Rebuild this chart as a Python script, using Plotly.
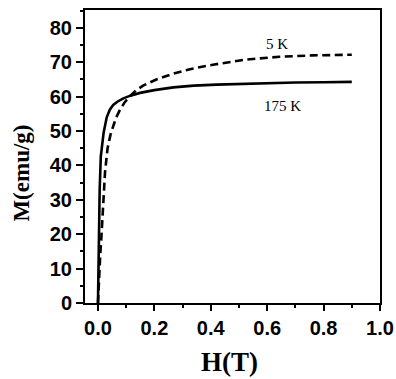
import plotly.graph_objects as go

# 175 K (solid)
h_175 = [0, 0.001, 0.002, 0.004, 0.006, 0.01, 0.015, 0.02, 0.031, 0.042, 0.054, 0.07, 0.09, 0.115,
         0.149, 0.2, 0.267, 0.34, 0.42, 0.53, 0.62, 0.7, 0.8, 0.9]
m_175 = [0, 10, 18.4, 26, 33, 42.6, 46.5, 49.5, 54, 56.2, 57.6, 58.6, 59.5, 60.3,
         61.1, 61.9, 62.7, 63.2, 63.5, 63.8, 64.0, 64.1, 64.2, 64.3]

# 5 K (dashed)
h_5 = [0, 0.004, 0.008, 0.012, 0.016, 0.02, 0.025, 0.034, 0.044, 0.054, 0.065, 0.078, 0.095, 0.113,
       0.135, 0.16, 0.207, 0.267, 0.326, 0.408, 0.526, 0.644, 0.76, 0.9]
m_5 = [0, 9, 14, 19, 26, 33, 38, 45, 48.8, 51.4, 54, 56.2, 58.4, 60.1,
       61.8, 63.2, 65, 66.7, 68, 69.3, 70.8, 71.6, 72, 72.2]

series_labels = ["5 K", "175 K"]
label_pos = [(0.634, 75.3), (0.655, 57.2)]

x_ticks = [0.0, 0.2, 0.4, 0.6, 0.8, 1.0]
x_ticktext = ["0.0", "0.2", "0.4", "0.6", "0.8", "1.0"]
y_ticks = [0, 10, 20, 30, 40, 50, 60, 70, 80]
y_ticktext = ["0", "10", "20", "30", "40", "50", "60", "70", "80"]

fig = go.Figure()
fig.add_trace(go.Scatter(x=h_5, y=m_5, mode="lines",
                         line=dict(color="black", width=2.6, dash="8px,4.5px"),
                         showlegend=False, hoverinfo="skip"))
fig.add_trace(go.Scatter(x=h_175, y=m_175, mode="lines",
                         line=dict(color="black", width=2.6),
                         showlegend=False, hoverinfo="skip"))

for txt, (lx, ly) in zip(series_labels, label_pos):
    fig.add_annotation(x=lx, y=ly, text=txt, showarrow=False,
                       font=dict(family="Liberation Serif", size=15, color="black"))

fig.add_annotation(xref="paper", yref="paper", x=-0.2136, y=0.445, text="<b>M(emu/g)</b>",
                   textangle=-90, showarrow=False, xanchor="center", yanchor="middle",
                   font=dict(family="Liberation Serif", size=23, color="black"))
fig.add_annotation(xref="paper", yref="paper", x=0.49, y=-0.2, text="<b>H(T)</b>",
                   showarrow=False, xanchor="center", yanchor="middle",
                   font=dict(family="Liberation Serif", size=27, color="black"))

tickfont = dict(family="Liberation Sans", size=20, color="black")

fig.update_layout(
    width=396, height=379,
    margin=dict(l=85, r=16, t=10, b=76, autoexpand=False),
    paper_bgcolor="white", plot_bgcolor="white",
    xaxis=dict(range=[-0.046, 1.0], tickvals=x_ticks, ticktext=["<b>%s</b>" % t for t in x_ticktext],
               showline=True, linecolor="black", linewidth=2, mirror=True, automargin=False,
               ticks="outside", ticklen=6, tickwidth=2, tickcolor="black",
               minor=dict(dtick=0.1, tick0=0, ticks="outside", ticklen=3, tickwidth=1.5, tickcolor="black"),
               showgrid=False, zeroline=False, tickfont=tickfont),
    yaxis=dict(range=[0, 85.2], tickvals=y_ticks, ticktext=["<b>%s</b>" % t for t in y_ticktext],
               showline=True, linecolor="black", linewidth=2, mirror=True, automargin=False,
               ticks="outside", ticklen=7, tickwidth=2, tickcolor="black",
               minor=dict(dtick=5, tick0=0, ticks="outside", ticklen=3, tickwidth=1.5, tickcolor="black"),
               showgrid=False, zeroline=False, tickfont=tickfont),
)

fig.write_html("out.html", config={"displayModeBar": False},
               post_script="document.body.style.margin='0';document.body.style.padding='0';document.body.style.overflow='hidden';")
